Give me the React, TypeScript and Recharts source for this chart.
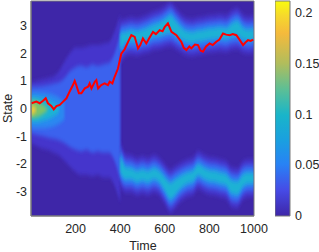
import {
  Area,
  CartesianGrid,
  ComposedChart,
  Line,
  ReferenceArea,
  XAxis,
  YAxis,
} from "recharts"

/******************************************************************************
                              Data
******************************************************************************/

const TIME_TICKS = [200, 400, 600, 800, 1000]
const STATE_TICKS = [-3, -2, -1, 0, 1, 2, 3]
const CBAR_TICKS = [0, 0.05, 0.1, 0.15, 0.2]

// red trajectory (time, state)
const PATH_T = [
  2, 24, 39, 54, 66, 76, 91, 102, 114, 129, 144, 159, 173, 188, 196, 203, 215,
  226, 241, 256, 263, 271, 286, 293, 301, 315, 330, 345, 353, 365, 375, 390,
  405, 420, 440, 450, 465, 480, 490, 502, 517, 530, 547, 560, 577, 590, 600,
  614, 630, 652, 674, 685, 697, 710, 719, 735, 749, 760, 771, 785, 801, 815,
  831, 845, 861, 875, 891, 905, 921, 935, 951, 962, 973, 985, 996,
]
const PATH_S = [
  0.19, 0.25, 0.19, 0.28, 0.37, 0.19, 0.09, -0.03, 0.09, 0.13, 0.25, 0.37,
  0.61, 0.85, 1.0, 0.85, 0.55, 0.55, 0.73, 0.79, 0.91, 0.73, 0.97, 1.03, 0.73,
  0.85, 0.91, 0.85, 0.97, 0.91, 1.15, 1.45, 1.99, 2.15, 2.5, 2.66, 2.6, 2.18,
  2.3, 2.54, 2.36, 2.55, 2.78, 2.7, 2.84, 2.8, 2.96, 3.09, 2.78, 2.66, 2.42,
  2.2, 2.12, 2.25, 2.18, 2.32, 2.3, 2.1, 2.06, 2.25, 2.36, 2.3, 2.42, 2.5,
  2.72, 2.68, 2.66, 2.7, 2.66, 2.5, 2.3, 2.4, 2.48, 2.45, 2.5,
]

// early single-mode density, layered bands (low / high state)
const EARLY_T = [
  0, 25, 50, 75, 100, 125, 150, 175, 200, 225, 250, 275, 300, 325, 350, 375, 400,
]
const FAINT_LO = [
  -1.25, -1.35, -1.45, -1.5, -1.6, -1.7, -1.9, -2.1, -2.3, -2.4, -2.4, -2.45,
  -2.4, -2.5, -2.5, -2.8, -3.4,
]
const FAINT_HI = [
  0.95, 1.0, 1.05, 1.1, 1.15, 1.35, 1.7, 2.0, 2.2, 2.2, 2.25, 2.3, 2.3, 2.35,
  2.4, 2.8, 3.4,
]
const LIGHT_LO = [
  -0.9, -0.95, -1.0, -1.05, -1.1, -1.15, -1.25, -1.4, -1.5, -1.55, -1.5, -1.6,
  -1.55, -1.6, -1.6, -1.9, -2.6,
]
const LIGHT_HI = [
  0.8, 0.8, 0.82, 0.85, 0.9, 0.95, 1.1, 1.35, 1.5, 1.55, 1.5, 1.6, 1.55, 1.6,
  1.65, 2.0, 2.7,
]

const BRIGHT_T = [0, 25, 50, 75, 100, 125, 150]
const BRIGHT_LO = [-0.7, -0.72, -0.72, -0.7, -0.65, -0.55, -0.4]
const BRIGHT_HI = [0.6, 0.6, 0.58, 0.55, 0.5, 0.4, 0.25]

const CYAN_T = [0, 25, 50, 75, 100, 125]
const CYAN_LO = [-0.48, -0.5, -0.45, -0.4, -0.3, -0.15]
const CYAN_HI = [0.43, 0.42, 0.38, 0.32, 0.22, 0.1]

const GREEN_T = [0, 25, 50, 75]
const GREEN_LO = [-0.35, -0.32, -0.22, -0.05]
const GREEN_HI = [0.3, 0.25, 0.15, 0.0]

const YELLOW_T = [0, 12, 25]
const YELLOW_LO = [-0.24, -0.18, -0.05]
const YELLOW_HI = [0.13, 0.08, -0.02]

// two modes after the split
const MODE_T = [
  400, 425, 450, 475, 500, 525, 550, 575, 600, 625, 650, 675, 700, 725, 750,
  775, 800, 825, 850, 875, 900, 925, 950, 975, 1000,
]
const UP_CENTER = [
  2.4, 2.58, 2.63, 2.6, 2.66, 2.72, 2.82, 2.87, 2.97, 3.06, 2.9, 2.72, 2.6,
  2.58, 2.63, 2.66, 2.7, 2.72, 2.75, 2.72, 2.84, 2.9, 2.72, 2.66, 2.7,
]
const UP_SPREAD = [
  0.3, 0.18, 0.18, 0.18, 0.18, 0.2, 0.2, 0.22, 0.25, 0.3, 0.25, 0.2, 0.18,
  0.18, 0.18, 0.18, 0.18, 0.18, 0.18, 0.18, 0.22, 0.25, 0.2, 0.18, 0.18,
]
const LOW_CENTER = [
  -2.0, -2.35, -2.37, -2.47, -2.41, -2.47, -2.37, -2.47, -2.74, -2.99, -2.83,
  -2.65, -2.53, -2.47, -2.23, -2.35, -2.44, -2.47, -2.53, -2.59, -2.85, -2.89,
  -2.62, -2.53, -2.53,
]
const LOW_SPREAD = [
  0.3, 0.2, 0.18, 0.18, 0.18, 0.18, 0.18, 0.18, 0.22, 0.28, 0.25, 0.2, 0.18,
  0.18, 0.18, 0.18, 0.18, 0.18, 0.18, 0.18, 0.22, 0.22, 0.2, 0.18, 0.18,
]

/******************************************************************************
                              Constants
******************************************************************************/

const FONT = "'Liberation Sans', Arial, Helvetica, sans-serif"
const TEXT = "#262626"
const AXIS = "#7a7a7a"
const BG = "#3E26A8"

const C_FAINT = "#4536CC"
const C_LIGHT = "#3A62EE"
const C_BRIGHT = "#2A88F0"
const C_CYAN = "#1DB2D4"
const C_GREEN = "#7CC36A"
const C_YELLOW = "#F2C83A"

const PARULA: [number, string][] = [
  [0, "#3E26A8"],
  [0.12, "#464BE6"],
  [0.24, "#2882F5"],
  [0.35, "#1A9FE0"],
  [0.47, "#19B5C9"],
  [0.59, "#5DBF95"],
  [0.71, "#B1BD5C"],
  [0.85, "#F5BA3C"],
  [0.93, "#F6D82C"],
  [1, "#F9FB0E"],
]

/******************************************************************************
                              Functions
******************************************************************************/

function band(t: number[], lo: number[], hi: number[]) {
  return t.map((x, i) => ({ t: x, range: [lo[i], hi[i]] }))
}

function modeBand(center: number[], spread: number[], pad: number) {
  return MODE_T.map((x, i) => ({
    t: x,
    range: [center[i] - spread[i] - pad, center[i] + spread[i] + pad],
  }))
}

const layers = [
  { data: band(EARLY_T, FAINT_LO, FAINT_HI), color: C_FAINT },
  { data: modeBand(UP_CENTER, UP_SPREAD, 0.5), color: C_FAINT },
  { data: modeBand(LOW_CENTER, LOW_SPREAD, 0.5), color: C_FAINT },
  { data: band(EARLY_T, LIGHT_LO, LIGHT_HI), color: C_LIGHT },
  { data: modeBand(UP_CENTER, UP_SPREAD, 0.3), color: C_LIGHT },
  { data: modeBand(LOW_CENTER, LOW_SPREAD, 0.3), color: C_LIGHT },
  { data: band(BRIGHT_T, BRIGHT_LO, BRIGHT_HI), color: C_BRIGHT },
  { data: modeBand(UP_CENTER, UP_SPREAD, 0.12), color: C_BRIGHT },
  { data: modeBand(LOW_CENTER, LOW_SPREAD, 0.12), color: C_BRIGHT },
  { data: band(CYAN_T, CYAN_LO, CYAN_HI), color: C_CYAN },
  { data: modeBand(UP_CENTER, UP_SPREAD, 0), color: C_CYAN },
  { data: modeBand(LOW_CENTER, LOW_SPREAD, 0), color: C_CYAN },
  { data: band(GREEN_T, GREEN_LO, GREEN_HI), color: C_GREEN },
  { data: band(YELLOW_T, YELLOW_LO, YELLOW_HI), color: C_YELLOW },
]

const pathData = PATH_T.map((t, i) => ({ t, s: PATH_S[i] }))

/******************************************************************************
                              Components
******************************************************************************/

const tickStyle = { fontSize: 12.5, fill: TEXT, fontFamily: FONT }

export default function App() {
  return (
    <div style={{ position: "absolute", left: 0, top: 0, width: 319, height: 252 }}>
      <ComposedChart
        width={319}
        height={252}
        margin={{ top: 1, right: 65, bottom: 0, left: 0 }}
        style={{ position: "absolute", left: 0, top: 0 }}
      >
        <defs>
          <filter id="soft" x="-5%" y="-20%" width="110%" height="140%">
            <feGaussianBlur stdDeviation="0.8 2" />
          </filter>
        </defs>
        <CartesianGrid horizontal={false} vertical={false} fill={BG} fillOpacity={1} stroke="none" />
        <XAxis
          type="number"
          dataKey="t"
          domain={[0, 1000]}
          ticks={TIME_TICKS}
          allowDataOverflow
          height={36}
          tickSize={0}
          tickMargin={8}
          tickLine={false}
          axisLine={{ stroke: AXIS }}
          tick={tickStyle}
        />
        <YAxis
          type="number"
          domain={[-3.9, 3.9]}
          ticks={STATE_TICKS}
          allowDataOverflow
          width={31}
          tickSize={0}
          tickMargin={4}
          tickLine={false}
          axisLine={{ stroke: AXIS }}
          tick={tickStyle}
        />
        {layers.map((l, i) => (
          <Area
            key={i}
            data={l.data}
            dataKey="range"
            type="monotone"
            stroke="none"
            fill={l.color}
            fillOpacity={1}
            filter="url(#soft)"
            dot={false}
            activeDot={false}
            isAnimationActive={false}
          />
        ))}
        <Line
          data={pathData}
          dataKey="s"
          type="linear"
          stroke="#FF0000"
          strokeWidth={2}
          dot={false}
          activeDot={false}
          isAnimationActive={false}
        />
        <ReferenceArea x1={0} x2={1000} y1={-3.9} y2={3.9} fill="none" stroke={AXIS} />
      </ComposedChart>

      <ComposedChart
        width={44}
        height={252}
        margin={{ top: 1, right: 0, bottom: 36, left: 0 }}
        data={[{ x: 0 }, { x: 1 }]}
        style={{ position: "absolute", left: 275, top: 0 }}
      >
        <defs>
          <linearGradient id="parula" x1="0" y1="1" x2="0" y2="0">
            {PARULA.map(([o, c]) => (
              <stop key={o} offset={o} stopColor={c} />
            ))}
          </linearGradient>
        </defs>
        <XAxis type="number" dataKey="x" domain={[0, 1]} hide />
        <YAxis
          orientation="right"
          type="number"
          domain={[0, 0.211]}
          ticks={CBAR_TICKS}
          allowDataOverflow
          width={29}
          tickSize={0}
          tickMargin={5}
          tickLine={false}
          axisLine={false}
          tick={{ ...tickStyle, textAnchor: "start" }}
        />
        <ReferenceArea
          x1={0}
          x2={1}
          y1={0}
          y2={0.211}
          fill="url(#parula)"
          fillOpacity={1}
          stroke={AXIS}
        />
      </ComposedChart>

      <svg
        width={319}
        height={252}
        style={{ position: "absolute", left: 0, top: 0, pointerEvents: "none" }}
      >
        <text
          x={12}
          y={108.5}
          transform="rotate(-90 12 108.5)"
          textAnchor="middle"
          fontSize={12.5}
          fontFamily={FONT}
          fill={TEXT}
        >
          State
        </text>
        <text x={143} y={249.5} textAnchor="middle" fontSize={12.5} fontFamily={FONT} fill={TEXT}>
          Time
        </text>
      </svg>
    </div>
  )
}
